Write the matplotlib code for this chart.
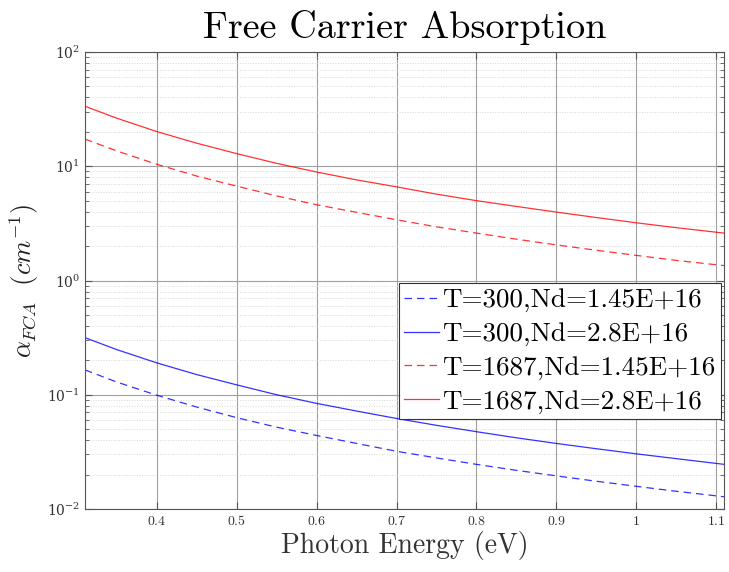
"""Free carrier absorption vs photon energy (MATLAB-style log plot)."""

import numpy as np
import matplotlib
matplotlib.use("Agg")
from matplotlib import pyplot as plt
from matplotlib.ticker import FuncFormatter, LogLocator, NullFormatter

plt.rcParams["mathtext.fontset"] = "cm"
plt.rcParams["font.family"] = ["DejaVu Serif"]

# photon energy (eV)
energy = [0.31, 0.35, 0.40, 0.45, 0.50, 0.55, 0.60, 0.65, 0.70, 0.75,
          0.80, 0.85, 0.90, 0.95, 1.00, 1.05, 1.11]

# absorption coefficient (cm^-1)
alpha_300_low = [0.165, 0.129, 0.099, 0.078, 0.063, 0.052, 0.044, 0.0375, 0.032,
                 0.028, 0.0246, 0.0218, 0.0195, 0.0175, 0.0158, 0.0143, 0.0128]
alpha_300_high = [0.316, 0.248, 0.190, 0.150, 0.122, 0.100, 0.084, 0.072, 0.062,
                  0.054, 0.0475, 0.042, 0.0375, 0.0337, 0.0304, 0.0276, 0.0246]
alpha_1687_low = [17.3, 13.6, 10.4, 8.2, 6.7, 5.5, 4.6, 3.95, 3.4,
                  2.95, 2.6, 2.3, 2.05, 1.84, 1.66, 1.5, 1.35]
alpha_1687_high = [33.5, 26.3, 20.1, 15.9, 12.9, 10.6, 8.9, 7.6, 6.6,
                   5.7, 5.0, 4.45, 3.97, 3.56, 3.2, 2.9, 2.6]

labels = ["T=300,Nd=1.45E+16", "T=300,Nd=2.8E+16",
          "T=1687,Nd=1.45E+16", "T=1687,Nd=2.8E+16"]

fig = plt.figure(figsize=(7.29, 5.72), dpi=100)
ax = fig.add_axes([85 / 729, 1 - 509 / 572, 639 / 729, 457 / 572])

blue = "#0000ff"
red = "#ff0000"
series = [
    (alpha_300_low, blue, (0, (6, 4))),
    (alpha_300_high, blue, "-"),
    (alpha_1687_low, red, (0, (6, 4))),
    (alpha_1687_high, red, "-"),
]
handles = []
for vals, col, ls in series:
    h, = ax.plot(energy, vals, color=col, linestyle=ls, linewidth=0.9, alpha=0.8)
    handles.append(h)

ax.set_yscale("log")
ax.set_xlim(0.31, 1.11)
ax.set_ylim(1e-2, 1e2)
ax.set_xticks([0.4, 0.5, 0.6, 0.7, 0.8, 0.9, 1.0, 1.1])
ax.xaxis.set_major_formatter(FuncFormatter(lambda v, p: f"${v:g}$"))
ax.yaxis.set_minor_locator(LogLocator(base=10, subs=np.arange(2, 10)))
ax.yaxis.set_minor_formatter(NullFormatter())

ax.grid(True, which="major", color="#a0a0a0", linewidth=0.8)
ax.grid(True, which="minor", axis="y", color="#d8d8d8", linestyle=":", linewidth=0.7)
ax.set_axisbelow(True)

ax.tick_params(which="both", direction="in", top=True, right=True,
               labelsize=10, labelcolor="#333333", color="#555555")
ax.tick_params(which="major", length=5)
ax.tick_params(which="minor", length=3)
for s in ax.spines.values():
    s.set_color("#555555")
    s.set_linewidth(0.8)

ax.set_title("Free Carrier Absorption", fontfamily="cmr10", fontsize=27.5, pad=10)
ax.set_xlabel("Photon Energy (eV)", fontfamily="cmr10", fontsize=20,
              color="#333333", labelpad=2)
ax.set_ylabel(r"$\alpha_{FCA}\ \ (cm^{-1})$", fontsize=19, color="#222222", labelpad=4)

leg = ax.legend(handles, labels,
                loc="upper right", bbox_to_anchor=(0.995, 0.495),
                prop={"family": "cmr10", "size": 19.5}, frameon=True, fancybox=False,
                framealpha=1, edgecolor="#333333", handlelength=1.3,
                handletextpad=0.1, borderpad=0.2, labelspacing=0.36, borderaxespad=0)
leg.get_frame().set_linewidth(0.8)

plt.savefig("out.png", dpi=100)
plt.close()
